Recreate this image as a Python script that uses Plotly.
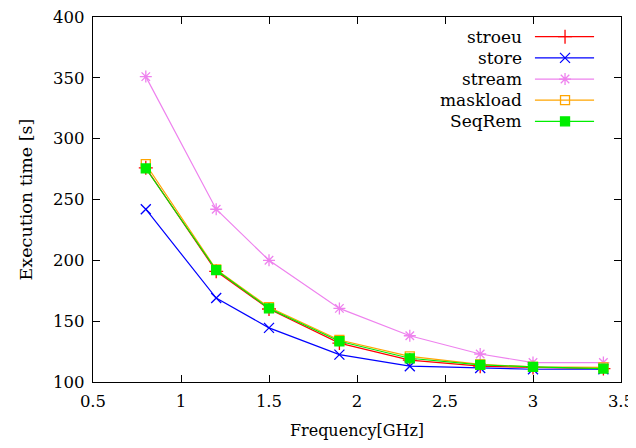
import plotly.graph_objects as go

freq = [0.8, 1.2, 1.5, 1.9, 2.3, 2.7, 3.0, 3.4]
stroeu = [276, 191, 160, 132, 118, 113, 112, 111]
store = [242, 169, 144.5, 122.5, 113, 111.5, 110.5, 110.5]
stream = [351, 242, 200, 160.5, 138, 123, 116, 116]
maskload = [279, 192.5, 161.5, 134.5, 121, 114.5, 112.5, 112]
seqrem = [275.5, 192, 160.5, 133.5, 119.5, 114, 112.5, 111]

names = ["stroeu", "store", "stream", "maskload", "SeqRem"]
values = [stroeu, store, stream, maskload, seqrem]
colors = ["#ff0000", "#0000ff", "#ee82ee", "#ffa500", "#00ee00"]
symbols = ["cross-thin-open", "x-thin-open", "asterisk-open", "square-open", "square"]
sizes = [10, 10, 10, 9, 9]

FONT = "DejaVu Serif"

fig = go.Figure()
for n, v, c, s, sz in zip(names, values, colors, symbols, sizes):
    fig.add_trace(go.Scatter(
        x=freq, y=v, name=n, mode="lines+markers",
        line=dict(color=c, width=1.2),
        marker=dict(symbol=s, size=sz, color=c, line=dict(color=c, width=1.3)),
        showlegend=False, xaxis="x", yaxis="y"))

# custom legend (text left of sample, like gnuplot)
leg_y = [0.946, 0.888, 0.830, 0.772, 0.714]
for n, c, s, sz, ly in zip(names, colors, symbols, sizes, leg_y):
    fig.add_trace(go.Scatter(
        x=[0.837, 0.949], y=[ly, ly], mode="lines",
        line=dict(color=c, width=1.2), showlegend=False,
        xaxis="x2", yaxis="y2", hoverinfo="skip"))
    fig.add_trace(go.Scatter(
        x=[0.894], y=[ly], mode="markers",
        marker=dict(symbol=s, size=sz, color=c, line=dict(color=c, width=1.3)),
        showlegend=False, xaxis="x2", yaxis="y2", hoverinfo="skip"))
    fig.add_annotation(x=0.816, y=ly, xref="x2", yref="y2", text=n,
                       showarrow=False, xanchor="right", yanchor="middle",
                       font=dict(family=FONT, size=17, color="black"))

axis_common = dict(showgrid=False, zeroline=False, showline=True, linecolor="black",
                   linewidth=1.3, mirror="ticks", ticks="inside", ticklen=7,
                   tickcolor="black", tickwidth=1, automargin=False,
                   ticklabeloverflow="allow", ticklabelstandoff=4,
                   tickfont=dict(family=FONT, size=16.5, color="black"))

# page body has an 8px margin: shift the figure geometry accordingly
fig.update_layout(
    width=628, height=432,
    margin=dict(l=85, r=15, t=9, b=58),
    plot_bgcolor="white", paper_bgcolor="white",
    font=dict(family=FONT),
    xaxis=dict(range=[0.5, 3.5], tickvals=[0.5, 1, 1.5, 2, 2.5, 3, 3.5],
               ticktext=["0.5", "1", "1.5", "2", "2.5", "3", "3.5"],
               title=dict(text="Frequency[GHz]", font=dict(family=FONT, size=16, color="black"),
                          standoff=14),
               **axis_common),
    yaxis=dict(range=[100, 400], tickvals=[100, 150, 200, 250, 300, 350, 400],
               title=dict(text="Execution time [s]", font=dict(family=FONT, size=17.5, color="black"),
                          standoff=15),
               **axis_common),
    xaxis2=dict(range=[0, 1], overlaying="x", visible=False, fixedrange=True),
    yaxis2=dict(range=[0, 1], overlaying="y", visible=False, fixedrange=True),
    showlegend=False,
)

fig.write_html("out.html")
